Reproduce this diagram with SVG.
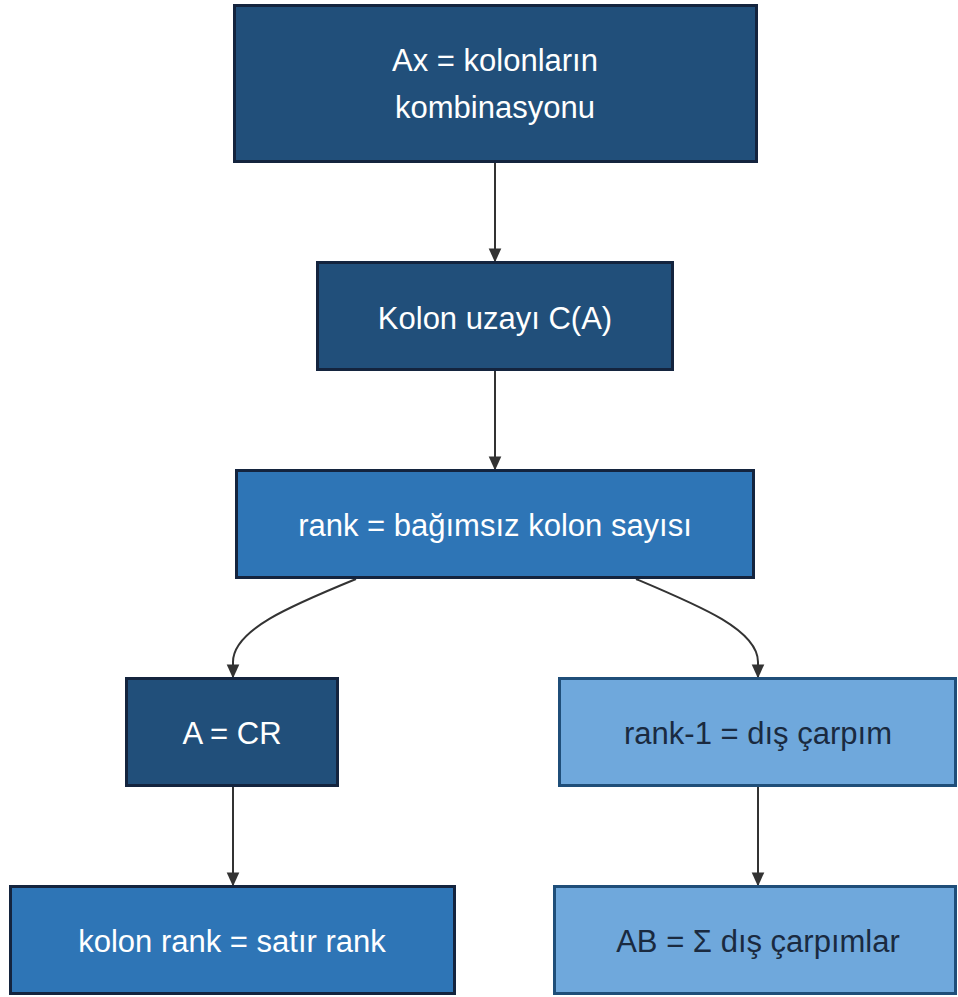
<svg xmlns="http://www.w3.org/2000/svg" width="958" height="997" viewBox="0 0 958 997">
<defs>
<marker id="arr" viewBox="0 0 10 10" refX="9" refY="5" markerWidth="14" markerHeight="14" markerUnits="userSpaceOnUse" orient="auto">
<path d="M0,0.5 L10,5 L0,9.5 z" fill="#333333"/>
</marker>
<style>
.dark{fill:#214f7a;stroke:#14243e;stroke-width:3}
.mid{fill:#2e75b6;stroke:#14243e;stroke-width:3}
.light{fill:#6fa8dc;stroke:#1f4e79;stroke-width:3}
.tw{font-family:"Liberation Sans",Arial,sans-serif;font-size:31px;fill:#ffffff;text-anchor:middle;dominant-baseline:central}
.td{font-family:"Liberation Sans",Arial,sans-serif;font-size:31px;fill:#1a2a40;text-anchor:middle;dominant-baseline:central}
.edge{fill:none;stroke:#333333;stroke-width:2}
</style>
</defs>
<rect width="958" height="997" fill="#ffffff"/>
<g id="connectors">
<path class="edge" d="M495,162 L495,261" marker-end="url(#arr)"/>
<path class="edge" d="M495,370 L495,469" marker-end="url(#arr)"/>
<path class="edge" d="M356,579 C290,606 233,630 233,662 L233,677" marker-end="url(#arr)"/>
<path class="edge" d="M636,579 C700,606 758,630 758,662 L758,677" marker-end="url(#arr)"/>
<path class="edge" d="M233,786 L233,885" marker-end="url(#arr)"/>
<path class="edge" d="M758,786 L758,885" marker-end="url(#arr)"/>
</g>
<g id="n1"><rect class="dark" x="234.5" y="5.5" width="522" height="156"/><text class="tw" x="495" y="60">Ax = kolonların</text><text class="tw" x="495" y="107">kombinasyonu</text></g>
<g id="n2"><rect class="dark" x="317.5" y="262.5" width="355" height="107"/><text class="tw" x="495" y="318">Kolon uzayı C(A)</text></g>
<g id="n3"><rect class="mid" x="236.5" y="470.5" width="517" height="107"/><text class="tw" x="495" y="525">rank = bağımsız kolon sayısı</text></g>
<g id="n4"><rect class="dark" x="126.5" y="678.5" width="211" height="107"/><text class="tw" x="232" y="733">A = CR</text></g>
<g id="n5"><rect class="light" x="559.5" y="678.5" width="396" height="107"/><text class="td" x="758" y="733">rank-1 = dış çarpım</text></g>
<g id="n6"><rect class="mid" x="10.5" y="886.5" width="444" height="107"/><text class="tw" x="232" y="941">kolon rank = satır rank</text></g>
<g id="n7"><rect class="light" x="554.5" y="886.5" width="401" height="107"/><text class="td" x="758" y="941">AB = Σ dış çarpımlar</text></g>
</svg>
